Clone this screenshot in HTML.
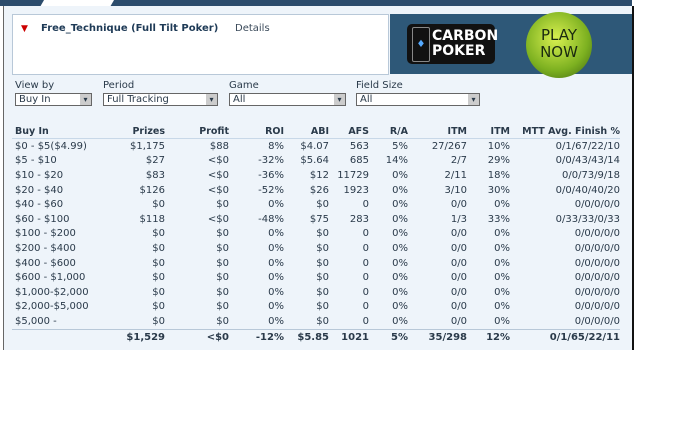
<!DOCTYPE html>
<html><head><style>
body{margin:0;width:700px;height:438px;background:#fff;position:relative;overflow:hidden;font-family:"DejaVu Sans",sans-serif;font-size:10px;color:#2a3a4a}
.abs{position:absolute}
#top{left:0;top:0;width:632px;height:6px;background:#2c4c6c}
#box{left:3px;top:6px;width:628px;height:344px;background:#eef4fa;border-right:2px solid #111;border-left:1px solid #666}
#hdr{left:12px;top:14px;width:375px;height:59px;background:#fff;border:1px solid #b8c8d8}
#ban{left:390px;top:14px;width:242px;height:60px;background:#2e5878}
.sel{position:absolute;top:93px;height:13px;background:#fff;border:1px solid #666;font-size:10px;line-height:12px;padding-left:3px;box-sizing:border-box}
.sel:after{content:"▾";position:absolute;right:0;top:0;width:11px;height:11px;background:#ccc;text-align:center;font-size:8px;line-height:11px}
.lab{position:absolute;top:80px}
table{position:absolute;left:12px;top:124px;border-collapse:collapse;width:608px}
td,th{padding:0;height:14.6px;text-align:right;white-space:nowrap;font-size:10px}
th{font-weight:bold;height:14px;border-bottom:1px solid #c8d8e8;font-size:9.5px}
td:first-child,th:first-child{text-align:left;padding-left:3px}
tr.tot td{font-weight:bold;border-top:1px solid #b8c8d8}
</style></head><body>
<div id="top" class="abs"></div>
<div class="abs" style="left:40px;top:0;width:70px;height:14px;background:#fff;transform:skewX(-30deg)"></div>
<div id="box" class="abs"></div>
<div id="hdr" class="abs"><span style="position:absolute;left:8px;top:9px;color:#c00;font-size:9px">▼</span><span style="position:absolute;left:28px;top:8px;font-weight:bold;color:#1e3a56">Free_Technique (Full Tilt Poker)</span><span style="position:absolute;left:222px;top:8px;color:#3a4a5a">Details</span></div>
<div id="ban" class="abs">
<div class="abs" style="left:17px;top:10px;width:88px;height:40px;background:#111;border-radius:5px"></div>
<div class="abs" style="left:22px;top:13px;width:16px;height:33px;border:1px solid #888;border-radius:2px;color:#5af;text-align:center;line-height:33px;font-size:10px">♦</div>
<div class="abs" style="left:42px;top:15px;color:#fff;font-weight:bold;font-size:14px;line-height:15px">CARBON<br>POKER</div>
<div class="abs" style="left:136px;top:-2px;width:66px;height:66px;border-radius:50%;background:radial-gradient(circle at 45% 40%,#d8f050,#7cb020 60%,#3a6010)"></div>
<div class="abs" style="left:149px;top:13px;color:#1a2a10;font-size:15px;line-height:17px;text-align:center;width:40px">PLAY<br>NOW</div>
</div>
<div class="lab" style="left:15px">View by</div>
<div class="lab" style="left:103px">Period</div>
<div class="lab" style="left:229px">Game</div>
<div class="lab" style="left:356px">Field Size</div>
<div class="sel" style="left:15px;width:77px">Buy In</div>
<div class="sel" style="left:103px;width:115px">Full Tracking</div>
<div class="sel" style="left:229px;width:117px">All</div>
<div class="sel" style="left:356px;width:124px">All</div>
<table>
<colgroup><col style="width:90px"><col style="width:63px"><col style="width:64px"><col style="width:55px"><col style="width:45px"><col style="width:40px"><col style="width:39px"><col style="width:59px"><col style="width:43px"><col></colgroup>
<tr><th>Buy In</th><th>Prizes</th><th>Profit</th><th>ROI</th><th>ABI</th><th>AFS</th><th>R/A</th><th>ITM</th><th>ITM</th><th>MTT Avg. Finish %</th></tr>
<tr><td>$0 - $5($4.99)</td><td>$1,175</td><td>$88</td><td>8%</td><td>$4.07</td><td>563</td><td>5%</td><td>27/267</td><td>10%</td><td>0/1/67/22/10</td></tr>
<tr><td>$5 - $10</td><td>$27</td><td>&lt;$0</td><td>-32%</td><td>$5.64</td><td>685</td><td>14%</td><td>2/7</td><td>29%</td><td>0/0/43/43/14</td></tr>
<tr><td>$10 - $20</td><td>$83</td><td>&lt;$0</td><td>-36%</td><td>$12</td><td>11729</td><td>0%</td><td>2/11</td><td>18%</td><td>0/0/73/9/18</td></tr>
<tr><td>$20 - $40</td><td>$126</td><td>&lt;$0</td><td>-52%</td><td>$26</td><td>1923</td><td>0%</td><td>3/10</td><td>30%</td><td>0/0/40/40/20</td></tr>
<tr><td>$40 - $60</td><td>$0</td><td>$0</td><td>0%</td><td>$0</td><td>0</td><td>0%</td><td>0/0</td><td>0%</td><td>0/0/0/0/0</td></tr>
<tr><td>$60 - $100</td><td>$118</td><td>&lt;$0</td><td>-48%</td><td>$75</td><td>283</td><td>0%</td><td>1/3</td><td>33%</td><td>0/33/33/0/33</td></tr>
<tr><td>$100 - $200</td><td>$0</td><td>$0</td><td>0%</td><td>$0</td><td>0</td><td>0%</td><td>0/0</td><td>0%</td><td>0/0/0/0/0</td></tr>
<tr><td>$200 - $400</td><td>$0</td><td>$0</td><td>0%</td><td>$0</td><td>0</td><td>0%</td><td>0/0</td><td>0%</td><td>0/0/0/0/0</td></tr>
<tr><td>$400 - $600</td><td>$0</td><td>$0</td><td>0%</td><td>$0</td><td>0</td><td>0%</td><td>0/0</td><td>0%</td><td>0/0/0/0/0</td></tr>
<tr><td>$600 - $1,000</td><td>$0</td><td>$0</td><td>0%</td><td>$0</td><td>0</td><td>0%</td><td>0/0</td><td>0%</td><td>0/0/0/0/0</td></tr>
<tr><td>$1,000-$2,000</td><td>$0</td><td>$0</td><td>0%</td><td>$0</td><td>0</td><td>0%</td><td>0/0</td><td>0%</td><td>0/0/0/0/0</td></tr>
<tr><td>$2,000-$5,000</td><td>$0</td><td>$0</td><td>0%</td><td>$0</td><td>0</td><td>0%</td><td>0/0</td><td>0%</td><td>0/0/0/0/0</td></tr>
<tr><td>$5,000 -</td><td>$0</td><td>$0</td><td>0%</td><td>$0</td><td>0</td><td>0%</td><td>0/0</td><td>0%</td><td>0/0/0/0/0</td></tr>
<tr class="tot"><td></td><td>$1,529</td><td>&lt;$0</td><td>-12%</td><td>$5.85</td><td>1021</td><td>5%</td><td>35/298</td><td>12%</td><td>0/1/65/22/11</td></tr>
</table>
</body></html>
